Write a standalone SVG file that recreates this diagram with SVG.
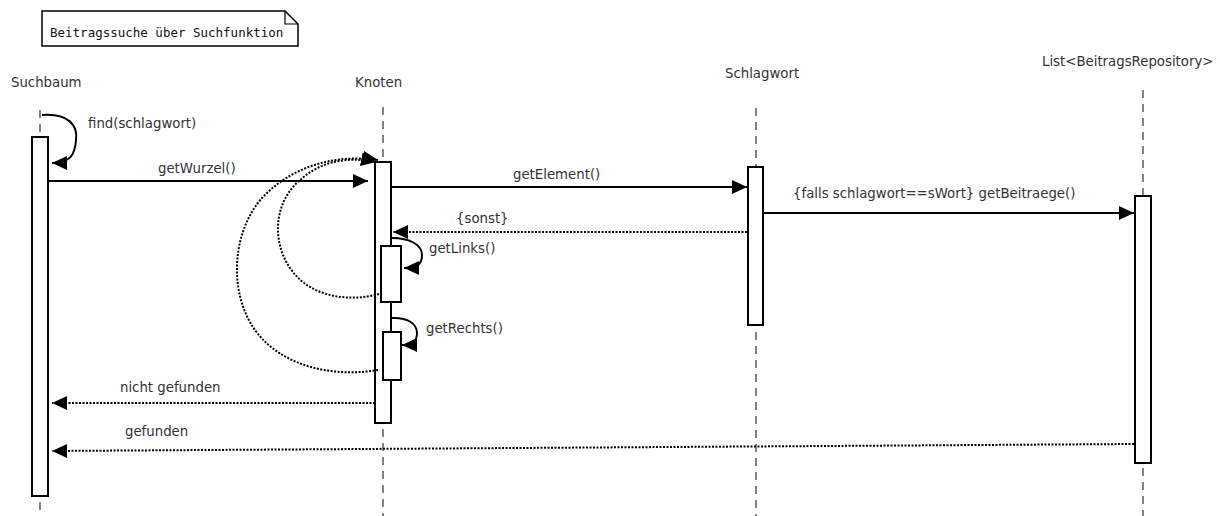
<svg xmlns="http://www.w3.org/2000/svg" width="1220" height="516" viewBox="0 0 1220 516">
<style>
.lbl{font-family:"DejaVu Sans",sans-serif;font-size:13.3px;fill:#333}
.note{font-family:"DejaVu Sans Mono",monospace;font-size:12.5px;fill:#111}
.life{stroke:#333;stroke-width:1.2;stroke-dasharray:8 6;fill:none}
.act{fill:#fff;stroke:#000;stroke-width:2}
.msg{fill:none;stroke:#000;stroke-width:2}
.ret{fill:none;stroke:#000;stroke-width:2;stroke-dasharray:2 1.5}
</style>
<defs>
<marker id="arr" markerUnits="userSpaceOnUse" markerWidth="16" markerHeight="16" refX="15" refY="7" orient="auto">
<path d="M0,0 L15,7 L0,14 Z" fill="#000"/>
</marker>
</defs>
<g id="note">
<path d="M42,11 L285,11 L298,24 L298,46 L42,46 Z" fill="#fff" stroke="#000" stroke-width="1.5"/>
<path d="M285,11 L285,24 L298,24" fill="none" stroke="#000" stroke-width="1.2"/>
<text class="note" x="50" y="37">Beitragssuche über Suchfunktion</text>
</g>
<g id="suchbaum">
<text class="lbl" x="11" y="87">Suchbaum</text>
<line class="life" x1="40" y1="110" x2="40" y2="516"/>
<rect class="act" x="32" y="137" width="16" height="359"/>
</g>
<g id="knoten">
<text class="lbl" x="355" y="87">Knoten</text>
<line class="life" x1="383" y1="107" x2="383" y2="516"/>
<rect class="act" x="375" y="162" width="16" height="261"/>
<rect class="act" x="381" y="246" width="20" height="56"/>
<rect class="act" x="383" y="332" width="18" height="48"/>
</g>
<g id="schlagwort">
<text class="lbl" x="725" y="78">Schlagwort</text>
<line class="life" x1="756" y1="108" x2="756" y2="516"/>
<rect class="act" x="748" y="167" width="15" height="158"/>
</g>
<g id="list">
<text class="lbl" x="1042" y="66">List&lt;BeitragsRepository&gt;</text>
<line class="life" x1="1143" y1="90" x2="1143" y2="516"/>
<rect class="act" x="1135" y="196" width="16" height="267"/>
</g>
<g id="connectors">
<path class="msg" d="M42,115 C68,113 78,125 76,140 C75,155 70,163 52,163" marker-end="url(#arr)"/>
<text class="lbl" x="88" y="128">find(schlagwort)</text>
<line class="msg" x1="48" y1="181" x2="368" y2="181" marker-end="url(#arr)"/>
<text class="lbl" x="158" y="173">getWurzel()</text>
<line class="msg" x1="391" y1="187" x2="747" y2="187" marker-end="url(#arr)"/>
<text class="lbl" x="513" y="179">getElement()</text>
<line class="ret" x1="747" y1="232" x2="393" y2="232" marker-end="url(#arr)"/>
<text class="lbl" x="456" y="223">{sonst}</text>
<path class="msg" d="M392,238 C410,238 422,245 422,255 C422,263 419,268 404,268" marker-end="url(#arr)"/>
<text class="lbl" x="429" y="253">getLinks()</text>
<path class="msg" d="M391,318 C408,317 417,324 417,333 C417,340 414,345 402,345" marker-end="url(#arr)"/>
<text class="lbl" x="426" y="333">getRechts()</text>
<path class="ret" d="M379,294 C350,302 310,298 290,268 C270,238 276,200 300,180 C320,162 345,156 376,162" marker-end="url(#arr)"/>
<path class="ret" d="M378,370 C330,378 280,365 255,330 C228,292 232,232 262,198 C292,166 335,154 378,160" marker-end="url(#arr)"/>
<line class="msg" x1="763" y1="213" x2="1134" y2="213" marker-end="url(#arr)"/>
<text class="lbl" x="793" y="198">{falls schlagwort==sWort} getBeitraege()</text>
<line class="ret" x1="375" y1="403" x2="52" y2="403" marker-end="url(#arr)"/>
<text class="lbl" x="120" y="392">nicht gefunden</text>
<line class="ret" x1="1134" y1="444" x2="52" y2="451" marker-end="url(#arr)"/>
<text class="lbl" x="125" y="436">gefunden</text>
</g>
</svg>
